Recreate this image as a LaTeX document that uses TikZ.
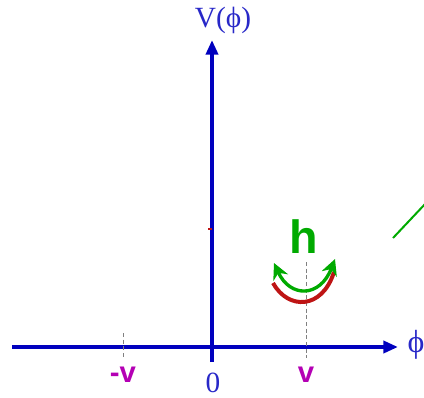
\documentclass[tikz,border=0pt]{standalone}
\usepackage{fontspec}
\setmainfont{Liberation Serif}
\setsansfont{Liberation Sans}
\usetikzlibrary{positioning,arrows.meta}
\definecolor{axblue}{RGB}{0,0,190}
\definecolor{txblue}{RGB}{40,40,200}
\definecolor{vmag}{RGB}{180,0,180}
\definecolor{hgreen}{RGB}{0,170,0}
\definecolor{wred}{RGB}{190,20,20}
\tikzset{
  axis/.style={axblue,line width=3pt,-{Triangle[length=11pt,width=9pt]}},
  tickline/.style={gray,dashed,line width=0.6pt,dash pattern=on 3pt off 2pt},
  vlabel/.style={vmag,font=\sffamily\bfseries\fontsize{22}{22}\selectfont},
}
\begin{document}
\begin{tikzpicture}[x=0.75pt,y=-0.75pt]
  \useasboundingbox (0,0) rectangle (424,397);
  % axes
  \coordinate (xl) at (12,347);
  \coordinate (xr) at (398,347);
  \coordinate (yb) at (212,362);
  \coordinate (yt) at (212,40);
  \draw[axis] (xl) -- (xr);
  \draw[axis] (yb) -- (yt);
  \node[txblue,font=\fontsize{22}{22}\selectfont] (vphi) at (223,20) {V(ϕ)};
  \node[txblue,font=\fontsize{24}{24}\selectfont,anchor=west] (phi) at (403,345) {ϕ};
  \node[txblue,font=\fontsize{22}{22}\selectfont] (zero) at (213,383) {0};
  % vacua
  \coordinate (mtop) at (123,333);
  \coordinate (mbot) at (123,358);
  \coordinate (ptop) at (306,262);
  \coordinate (pbot) at (306,358);
  \draw[tickline] (mtop) -- (mbot);
  \draw[tickline] (ptop) -- (pbot);
  \node[vlabel] (mv) at (123,375) {-v};
  \node[vlabel] (pv) at (306,375) {v};
  \draw[wred,line width=2pt] (208,229) -- (212,229);
  % well and Higgs mode
  \coordinate (wl) at (273,283);
  \coordinate (wr) at (334,272);
  \draw[wred,line width=3pt] (wl) .. controls (288,310) and (322,310) .. (wr);
  \coordinate (gl) at (274,263);
  \coordinate (gr) at (335,259);
  \draw[hgreen,line width=2.5pt,{Stealth[length=12pt,width=12pt]}-{Stealth[length=12pt,width=12pt]}]
    (gl) .. controls (290,298) and (320,298) .. (gr);
  \node[hgreen,font=\sffamily\bfseries\fontsize{35}{35}\selectfont] (h) at (304,237) {h};
  \coordinate (ga) at (393,238);
  \coordinate (gb) at (426,203);
  \draw[hgreen,line width=1.5pt] (ga) -- (gb);
\end{tikzpicture}
\end{document}
